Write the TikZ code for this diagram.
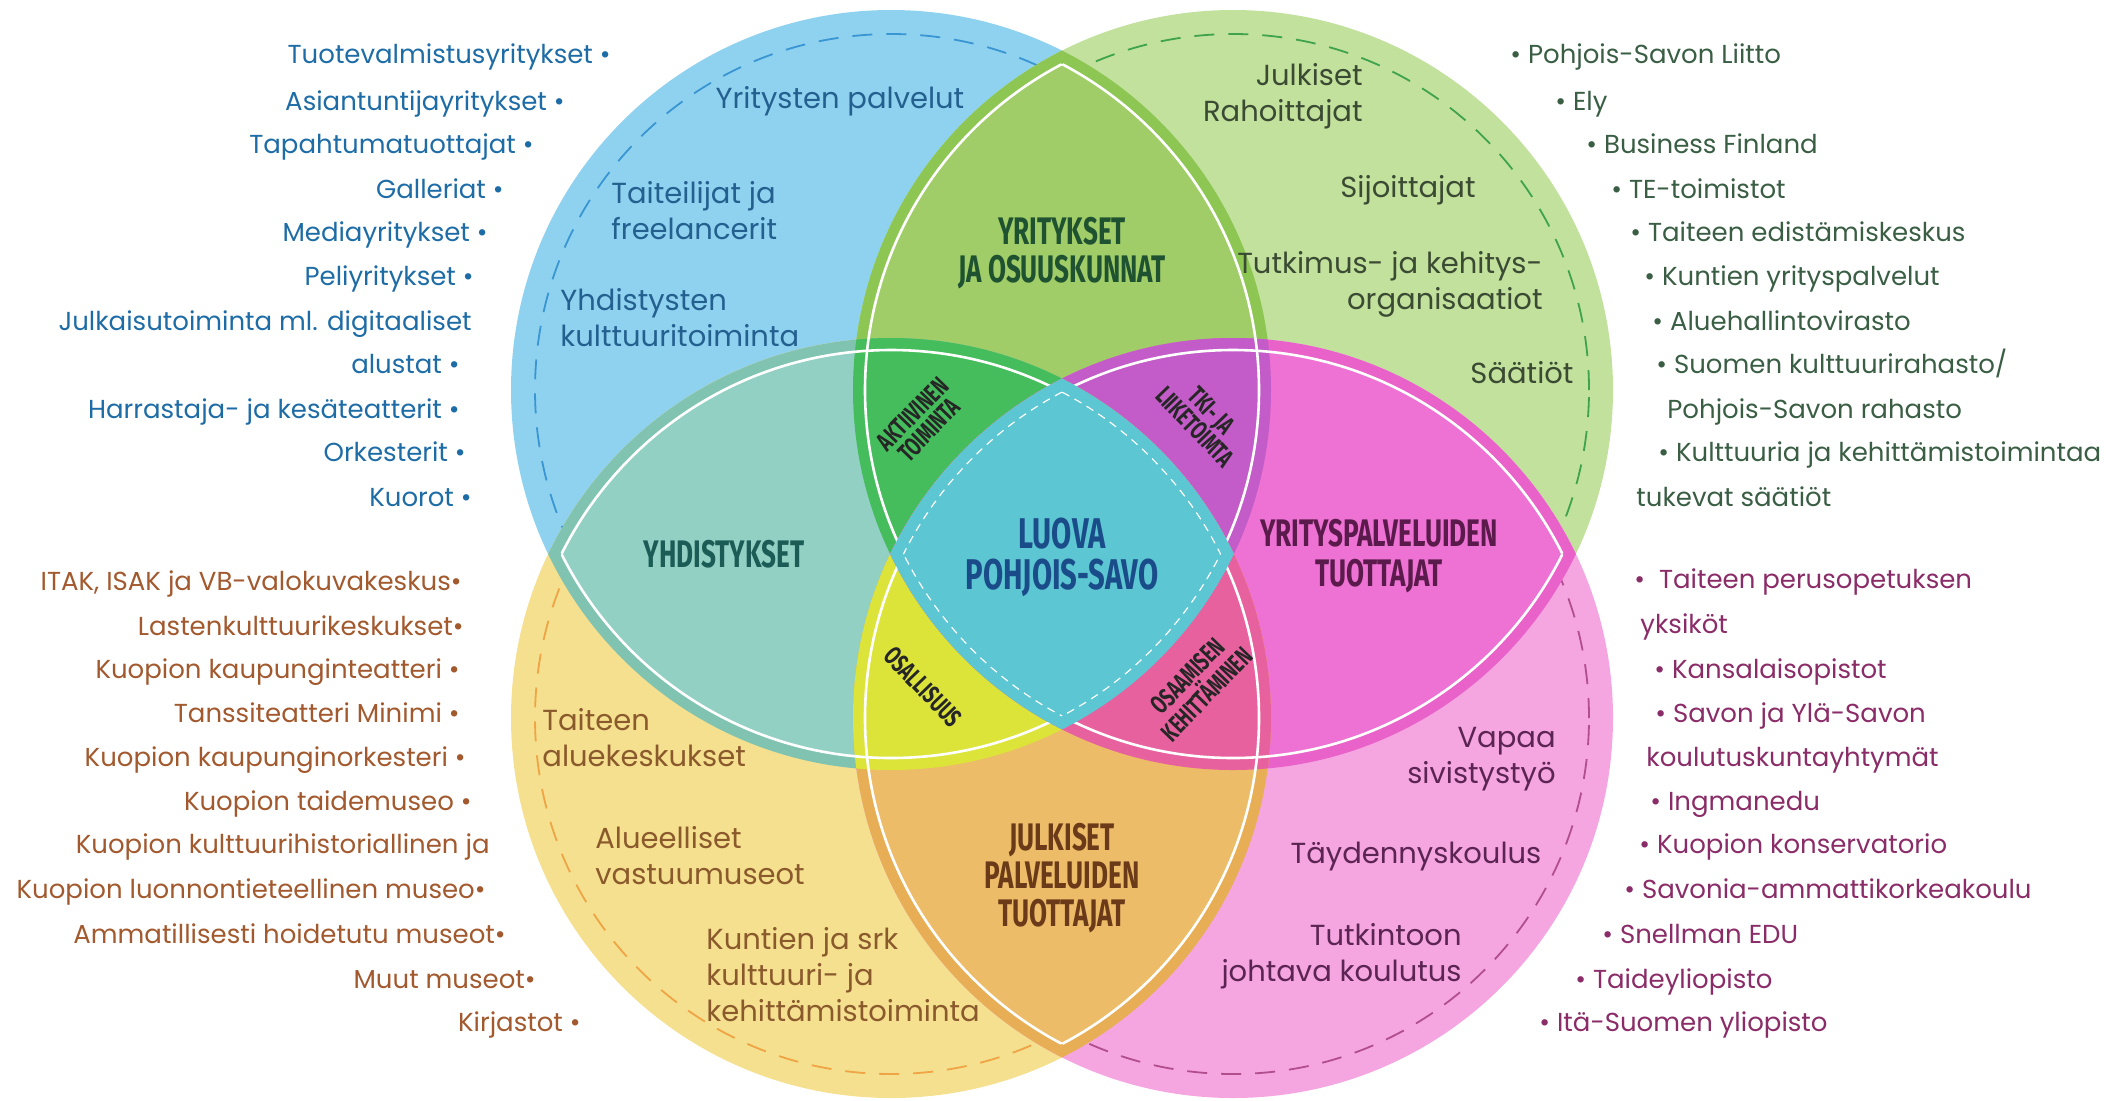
\documentclass[tikz,border=0pt]{standalone}
\usepackage{xcolor}
\usepackage{fontspec}
\setmainfont{Poppins}
\newfontfamily\condfont[FakeStretch=0.68]{Fira Sans}

\definecolor{cblue}{HTML}{8FD2EF}
\definecolor{cgreen}{HTML}{C2E19C}
\definecolor{cyellow}{HTML}{F5E08F}
\definecolor{cpink}{HTML}{F5A6E1}
\definecolor{bgrim}{HTML}{8DC653}
\definecolor{bgfill}{HTML}{A0CD68}
\definecolor{byrim}{HTML}{80C3B1}
\definecolor{byfill}{HTML}{93D0C4}
\definecolor{gprim}{HTML}{E862C9}
\definecolor{gpfill}{HTML}{EE72D3}
\definecolor{yprim}{HTML}{E8AE55}
\definecolor{ypfill}{HTML}{EDBC68}
\definecolor{cbgy}{HTML}{45BD5C}
\definecolor{cbgp}{HTML}{C35CC8}
\definecolor{cbyp}{HTML}{DCE43A}
\definecolor{cgyp}{HTML}{E8619F}
\definecolor{ccore}{HTML}{5CC6D2}
\definecolor{dblue}{HTML}{3A95D3}
\definecolor{dgreen}{HTML}{3FA34D}
\definecolor{dyellow}{HTML}{EFA445}
\definecolor{dpink}{HTML}{B14E8E}
\definecolor{tblue}{HTML}{1E6CA6}
\definecolor{tgreen}{HTML}{3A5E44}
\definecolor{tbrown}{HTML}{A2592E}
\definecolor{tpurple}{HTML}{8A2C67}
\definecolor{iblue}{HTML}{24608F}
\definecolor{igreen}{HTML}{3B4B33}
\definecolor{ibrown}{HTML}{8A5A2C}
\definecolor{ipurple}{HTML}{5C2452}
\definecolor{lgreen}{HTML}{1E5230}
\definecolor{lteal}{HTML}{1B5C56}
\definecolor{lblue}{HTML}{1B4C8A}
\definecolor{lpurple}{HTML}{5A1A4B}
\definecolor{lbrown}{HTML}{6B3A18}

\newcommand{\Rbig}{190pt}
\newcommand{\Rin}{184pt}
\newcommand{\Rdash}{178pt}

\tikzset{
	outlist/.style={font=\fontsize{13}{16}\selectfont,inner sep=0pt,text height=1.5ex,text depth=0.25ex,yshift=-2pt},
	intext/.style={font=\fontsize{14.5}{18}\selectfont,inner sep=0pt,yshift=-2pt},
	biglabel/.style={font=\condfont\bfseries\fontsize{19.2}{19.2}\selectfont,inner sep=0pt,align=center,yshift=-2pt},
	minilabel/.style={font=\condfont\bfseries\fontsize{13}{11.5}\selectfont,inner sep=0pt,align=center,text=black!85},
	wline/.style={draw=white,line width=1.3pt},
	wdash/.style={draw=white,line width=0.6pt,dash pattern=on 4pt off 3pt},
	odash/.style={line width=0.9pt,dash pattern=on 10pt off 7pt}
}

\begin{document}
\begin{tikzpicture}[x=0.5pt,y=-0.5pt]
	\useasboundingbox (0,0) rectangle (2116,1100);
	\coordinate (cb) at (891,390);
	\coordinate (cg) at (1233,390);
	\coordinate (cy) at (891,718);
	\coordinate (cp) at (1233,718);

	\fill[cblue] (cb) circle[radius=\Rbig];
	\fill[cgreen] (cg) circle[radius=\Rbig];
	\fill[cyellow] (cy) circle[radius=\Rbig];
	\fill[cpink] (cp) circle[radius=\Rbig];
	\draw[odash,dblue] (cb) circle[radius=\Rdash];
	\draw[odash,dgreen] (cg) circle[radius=\Rdash];
	\draw[odash,dyellow] (cy) circle[radius=\Rdash];
	\draw[odash,dpink] (cp) circle[radius=\Rdash];

	\begin{scope}
		\clip (cb) circle[radius=\Rbig];
		\fill[bgrim] (cg) circle[radius=\Rbig];
		\clip (cb) circle[radius=\Rin];
		\fill[bgfill] (cg) circle[radius=\Rin];
	\end{scope}
	\begin{scope}
		\clip (cb) circle[radius=\Rbig];
		\fill[byrim] (cy) circle[radius=\Rbig];
		\clip (cb) circle[radius=\Rin];
		\fill[byfill] (cy) circle[radius=\Rin];
	\end{scope}
	\begin{scope}
		\clip (cg) circle[radius=\Rbig];
		\fill[gprim] (cp) circle[radius=\Rbig];
		\clip (cg) circle[radius=\Rin];
		\fill[gpfill] (cp) circle[radius=\Rin];
	\end{scope}
	\begin{scope}
		\clip (cy) circle[radius=\Rbig];
		\fill[yprim] (cp) circle[radius=\Rbig];
		\clip (cy) circle[radius=\Rin];
		\fill[ypfill] (cp) circle[radius=\Rin];
	\end{scope}

	\begin{scope}
		\clip (cb) circle[radius=\Rbig];
		\clip (cg) circle[radius=\Rbig];
		\fill[cbgy] (cy) circle[radius=\Rbig];
	\end{scope}
	\begin{scope}
		\clip (cb) circle[radius=\Rbig];
		\clip (cg) circle[radius=\Rbig];
		\fill[cbgp] (cp) circle[radius=\Rbig];
	\end{scope}
	\begin{scope}
		\clip (cb) circle[radius=\Rbig];
		\clip (cy) circle[radius=\Rbig];
		\fill[cbyp] (cp) circle[radius=\Rbig];
	\end{scope}
	\begin{scope}
		\clip (cg) circle[radius=\Rbig];
		\clip (cy) circle[radius=\Rbig];
		\fill[cgyp] (cp) circle[radius=\Rbig];
	\end{scope}

	\begin{scope}
		\clip (cg) circle[radius=\Rin] (cy) circle[radius=\Rin] (cp) circle[radius=\Rin];
		\draw[wline] (cb) circle[radius=\Rin];
	\end{scope}
	\begin{scope}
		\clip (cb) circle[radius=\Rin] (cy) circle[radius=\Rin] (cp) circle[radius=\Rin];
		\draw[wline] (cg) circle[radius=\Rin];
	\end{scope}
	\begin{scope}
		\clip (cb) circle[radius=\Rin] (cg) circle[radius=\Rin] (cp) circle[radius=\Rin];
		\draw[wline] (cy) circle[radius=\Rin];
	\end{scope}
	\begin{scope}
		\clip (cb) circle[radius=\Rin] (cg) circle[radius=\Rin] (cy) circle[radius=\Rin];
		\draw[wline] (cp) circle[radius=\Rin];
	\end{scope}

	\begin{scope}
		\clip (cb) circle[radius=\Rbig];
		\clip (cg) circle[radius=\Rbig];
		\clip (cy) circle[radius=\Rbig];
		\fill[ccore] (cp) circle[radius=\Rbig];
	\end{scope}
	\begin{scope}
		\clip (cg) circle[radius=\Rin];
		\clip (cy) circle[radius=\Rin];
		\clip (cp) circle[radius=\Rin];
		\draw[wdash] (cb) circle[radius=\Rin];
	\end{scope}
	\begin{scope}
		\clip (cb) circle[radius=\Rin];
		\clip (cy) circle[radius=\Rin];
		\clip (cp) circle[radius=\Rin];
		\draw[wdash] (cg) circle[radius=\Rin];
	\end{scope}
	\begin{scope}
		\clip (cb) circle[radius=\Rin];
		\clip (cg) circle[radius=\Rin];
		\clip (cp) circle[radius=\Rin];
		\draw[wdash] (cy) circle[radius=\Rin];
	\end{scope}
	\begin{scope}
		\clip (cb) circle[radius=\Rin];
		\clip (cg) circle[radius=\Rin];
		\clip (cy) circle[radius=\Rin];
		\draw[wdash] (cp) circle[radius=\Rin];
	\end{scope}

	\node[intext,text=iblue] at (840,97) (bt1) {Yritysten palvelut};
	\node[intext,text=iblue,anchor=west,align=left] at (611,207) (bt2) {Taiteilijat ja\\freelancerit};
	\node[intext,text=iblue,anchor=west,align=left] at (560,314) (bt3) {Yhdistysten\\kulttuuritoiminta};
	\node[intext,text=igreen,anchor=east,align=right] at (1363,92) (gt1) {Julkiset\\Rahoittajat};
	\node[intext,text=igreen] at (1408,186) (gt2) {Sijoittajat};
	\node[intext,text=igreen,anchor=east,align=right] at (1543,280) (gt3) {Tutkimus- ja kehitys-\\organisaatiot};
	\node[intext,text=igreen] at (1522,369) (gt4) {Säätiöt};
	\node[intext,text=ibrown,anchor=west,align=left] at (542,734) (yt1) {Taiteen\\aluekeskukset};
	\node[intext,text=ibrown,anchor=west,align=left] at (595,852) (yt2) {Alueelliset\\vastuumuseot};
	\node[intext,text=ibrown,anchor=west,align=left] at (706,971) (yt3) {Kuntien ja srk\\kulttuuri- ja\\kehittämistoiminta};
	\node[intext,text=ipurple,anchor=east,align=right] at (1556,755) (pt1) {Vapaa\\sivistystyö};
	\node[intext,text=ipurple] at (1416,852) (pt2) {Täydennyskoulus};
	\node[intext,text=ipurple,anchor=east,align=right] at (1462,952) (pt3) {Tutkintoon\\johtava koulutus};

	\node[biglabel,text=lgreen] at (1062,249) (lbg) {YRITYKSET\\JA OSUUSKUNNAT};
	\node[biglabel,text=lteal] at (724,550) (lby) {YHDISTYKSET};
	\node[biglabel,text=lpurple,font=\condfont\bfseries\fontsize{19.2}{20}\selectfont] at (1379,552) (lgp) {YRITYSPALVELUIDEN\\TUOTTAJAT};
	\node[biglabel,text=lbrown] at (1062,874) (lyp) {JULKISET\\PALVELUIDEN\\TUOTTAJAT};
	\node[biglabel,text=lblue,font=\condfont\bfseries\fontsize{21.5}{20.5}\selectfont] at (1062,553) (lcore) {LUOVA\\POHJOIS-SAVO};
	\node[minilabel,rotate=46] at (921,422) (lbgy) {AKTIIVINEN\\TOIMINTA};
	\node[minilabel,rotate=-46] at (1203,419) (lbgp) {TKI- JA\\LIIKETOIMTA};
	\node[minilabel,rotate=-46] at (923,687) (lbyp) {OSALLISUUS};
	\node[minilabel,rotate=46] at (1197,685) (lgyp) {OSAAMISEN\\KEHITTÄMINEN};

	\node[outlist,text=tblue,anchor=east] at (611,53) (tl1) {Tuotevalmistusyritykset \textbullet};
	\node[outlist,text=tblue,anchor=east] at (565,100) (tl2) {Asiantuntijayritykset \textbullet};
	\node[outlist,text=tblue,anchor=east] at (534,143) (tl3) {Tapahtumatuottajat \textbullet};
	\node[outlist,text=tblue,anchor=east] at (504,188) (tl4) {Galleriat \textbullet};
	\node[outlist,text=tblue,anchor=east] at (488,231) (tl5) {Mediayritykset \textbullet};
	\node[outlist,text=tblue,anchor=east] at (474,275) (tl6) {Peliyritykset \textbullet};
	\node[outlist,text=tblue,anchor=east] at (472,320) (tl7) {Julkaisutoiminta ml. digitaaliset};
	\node[outlist,text=tblue,anchor=east] at (460,363) (tl8) {alustat \textbullet};
	\node[outlist,text=tblue,anchor=east] at (460,408) (tl9) {Harrastaja- ja kesäteatterit \textbullet};
	\node[outlist,text=tblue,anchor=east] at (466,451) (tl10) {Orkesterit \textbullet};
	\node[outlist,text=tblue,anchor=east] at (472,496) (tl11) {Kuorot \textbullet};

	\node[outlist,text=tbrown,anchor=east] at (462,580) (bl1) {ITAK, ISAK ja VB-valokuvakeskus\textbullet};
	\node[outlist,text=tbrown,anchor=east] at (464,625) (bl2) {Lastenkulttuurikeskukset\textbullet};
	\node[outlist,text=tbrown,anchor=east] at (460,668) (bl3) {Kuopion kaupunginteatteri \textbullet};
	\node[outlist,text=tbrown,anchor=east] at (460,712) (bl4) {Tanssiteatteri Minimi \textbullet};
	\node[outlist,text=tbrown,anchor=east] at (466,756) (bl5) {Kuopion kaupunginorkesteri \textbullet};
	\node[outlist,text=tbrown,anchor=east] at (472,800) (bl6) {Kuopion taidemuseo \textbullet};
	\node[outlist,text=tbrown,anchor=east] at (490,843) (bl7) {Kuopion kulttuurihistoriallinen ja};
	\node[outlist,text=tbrown,anchor=east] at (486,888) (bl8) {Kuopion luonnontieteellinen museo\textbullet};
	\node[outlist,text=tbrown,anchor=east] at (506,933) (bl9) {Ammatillisesti hoidetutu museot\textbullet};
	\node[outlist,text=tbrown,anchor=east] at (536,978) (bl10) {Muut museot\textbullet};
	\node[outlist,text=tbrown,anchor=east] at (581,1021) (bl11) {Kirjastot \textbullet};

	\node[outlist,text=tgreen,anchor=west] at (1510,53) (tr1) {\textbullet{} Pohjois-Savon Liitto};
	\node[outlist,text=tgreen,anchor=west] at (1555,100) (tr2) {\textbullet{} Ely};
	\node[outlist,text=tgreen,anchor=west] at (1586,143) (tr3) {\textbullet{} Business Finland};
	\node[outlist,text=tgreen,anchor=west] at (1611,188) (tr4) {\textbullet{} TE-toimistot};
	\node[outlist,text=tgreen,anchor=west] at (1630,231) (tr5) {\textbullet{} Taiteen edistämiskeskus};
	\node[outlist,text=tgreen,anchor=west] at (1644,275) (tr6) {\textbullet{} Kuntien yrityspalvelut};
	\node[outlist,text=tgreen,anchor=west] at (1652,320) (tr7) {\textbullet{} Aluehallintovirasto};
	\node[outlist,text=tgreen,anchor=west] at (1656,363) (tr8) {\textbullet{} Suomen kulttuurirahasto/};
	\node[outlist,text=tgreen,anchor=west] at (1667,408) (tr9) {Pohjois-Savon rahasto};
	\node[outlist,text=tgreen,anchor=west] at (1658,451) (tr10) {\textbullet{} Kulttuuria ja kehittämistoimintaa};
	\node[outlist,text=tgreen,anchor=west] at (1636,496) (tr11) {tukevat säätiöt};

	\node[outlist,text=tpurple,anchor=west] at (1634,578) (br1) {\textbullet{}\ \ Taiteen perusopetuksen};
	\node[outlist,text=tpurple,anchor=west] at (1640,623) (br2) {yksiköt};
	\node[outlist,text=tpurple,anchor=west] at (1654,668) (br3) {\textbullet{} Kansalaisopistot};
	\node[outlist,text=tpurple,anchor=west] at (1655,712) (br4) {\textbullet{} Savon ja Ylä-Savon};
	\node[outlist,text=tpurple,anchor=west] at (1646,756) (br5) {koulutuskuntayhtymät};
	\node[outlist,text=tpurple,anchor=west] at (1650,800) (br6) {\textbullet{} Ingmanedu};
	\node[outlist,text=tpurple,anchor=west] at (1639,843) (br7) {\textbullet{} Kuopion konservatorio};
	\node[outlist,text=tpurple,anchor=west] at (1624,888) (br8) {\textbullet{} Savonia-ammattikorkeakoulu};
	\node[outlist,text=tpurple,anchor=west] at (1602,933) (br9) {\textbullet{} Snellman EDU};
	\node[outlist,text=tpurple,anchor=west] at (1575,978) (br10) {\textbullet{} Taideyliopisto};
	\node[outlist,text=tpurple,anchor=west] at (1539,1021) (br11) {\textbullet{} Itä-Suomen yliopisto};
\end{tikzpicture}
\end{document}
